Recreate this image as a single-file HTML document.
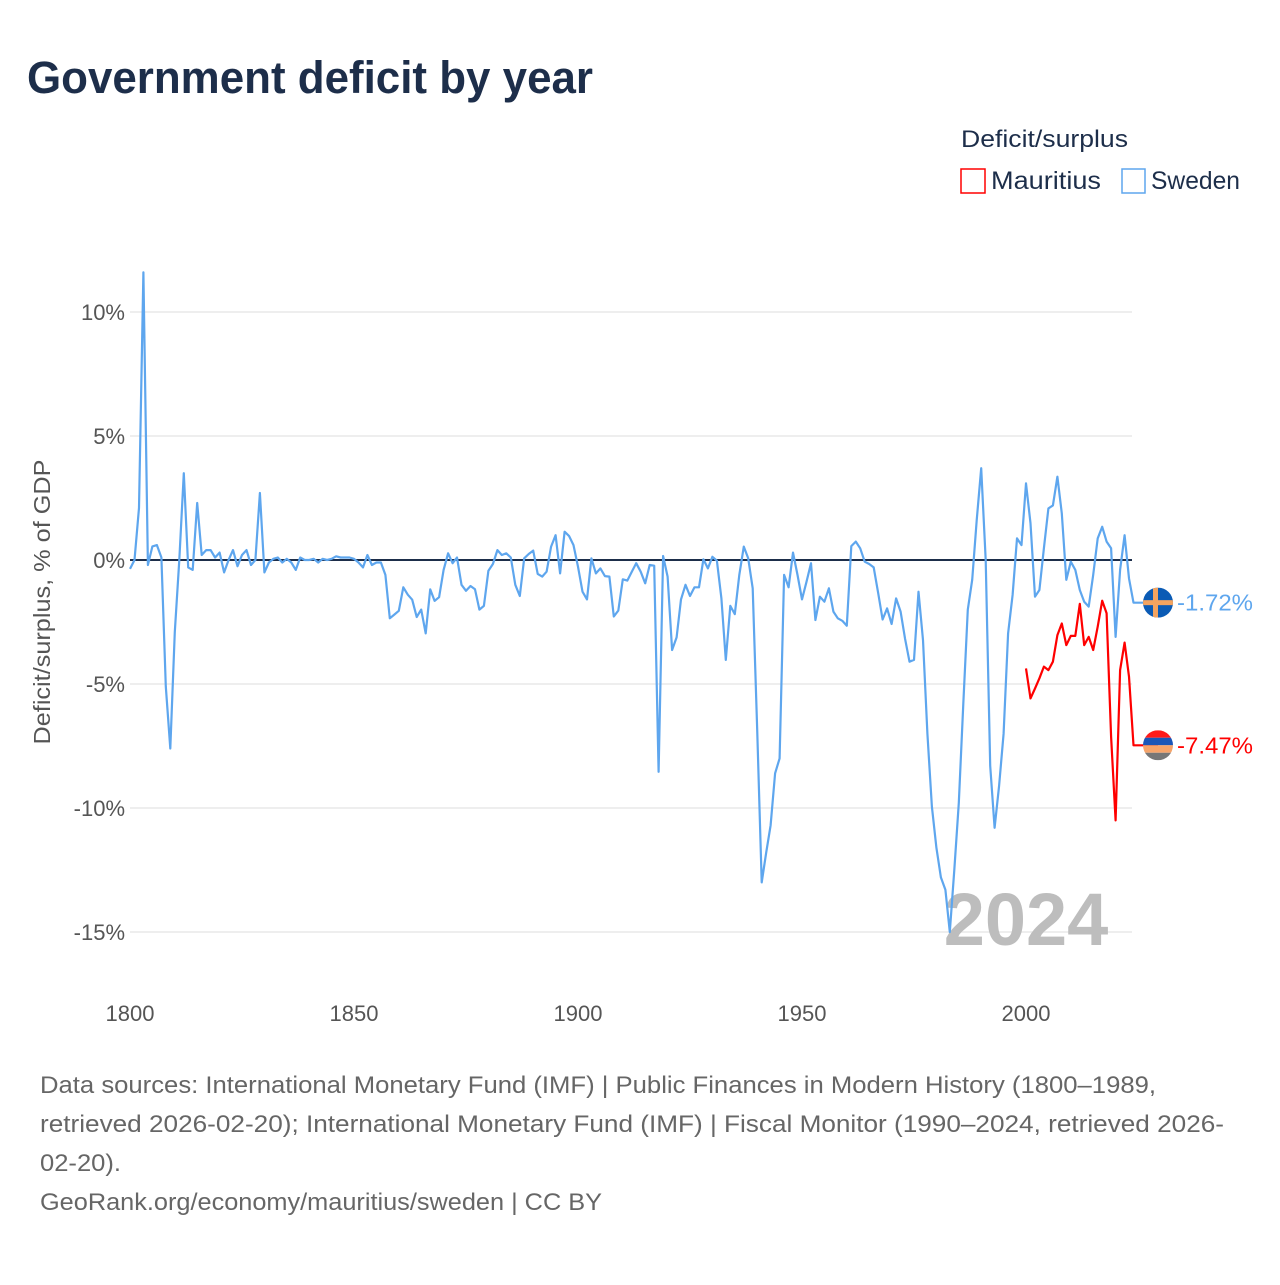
<!DOCTYPE html>
<html><head><meta charset="utf-8">
<style>
body{margin:0;background:#fff;width:1280px;height:1280px;overflow:hidden;font-family:"Liberation Sans",sans-serif;}
</style></head>
<body>
<svg width="1280" height="1280" xmlns="http://www.w3.org/2000/svg" font-family="Liberation Sans, sans-serif">
<text x="27" y="93" font-size="45" font-weight="bold" fill="#1d2e4a" textLength="566" lengthAdjust="spacingAndGlyphs">Government deficit by year</text>
<text x="961" y="147" font-size="24" fill="#1d2e4a" textLength="167" lengthAdjust="spacingAndGlyphs">Deficit/surplus</text>
<g>
<rect x="961" y="169" width="24" height="24" fill="#fff" stroke="#ff0000" stroke-width="1.5"/>
<text x="991" y="189" font-size="25" fill="#1d2e4a" textLength="110" lengthAdjust="spacingAndGlyphs">Mauritius</text></g>
<g>
<rect x="1122" y="169" width="23" height="24" fill="#fff" stroke="#5ea6ee" stroke-width="1.5"/>
<text x="1151" y="189" font-size="25" fill="#1d2e4a" textLength="89" lengthAdjust="spacingAndGlyphs">Sweden</text></g>
<g id="grid"></g>
<g id="yticks"></g>
<g id="xticks"></g>
<text transform="translate(50,602) rotate(-90)" text-anchor="middle" font-size="23" fill="#555" textLength="285" lengthAdjust="spacingAndGlyphs">Deficit/surplus, % of GDP</text>
<text x="1026" y="945" text-anchor="middle" font-size="74" font-weight="bold" fill="#bdbdbd">2024</text>
<g id="series"></g>
<g font-size="24" fill="#666">
<text x="40" y="1093" textLength="1116" lengthAdjust="spacingAndGlyphs">Data sources: International Monetary Fund (IMF) | Public Finances in Modern History (1800–1989,</text>
<text x="40" y="1132" textLength="1184" lengthAdjust="spacingAndGlyphs">retrieved 2026-02-20); International Monetary Fund (IMF) | Fiscal Monitor (1990–2024, retrieved 2026-</text>
<text x="40" y="1171" textLength="81" lengthAdjust="spacingAndGlyphs">02-20).</text>
<text x="40" y="1210" textLength="562" lengthAdjust="spacingAndGlyphs">GeoRank.org/economy/mauritius/sweden | CC BY</text>
</g>
</svg>
<script>
const yTicks=[10,5,0,-5,-10,-15];
const xTicks=[1800,1850,1900,1950,2000];
const swedenStart=1800;
const swedenValues=[-0.36,0,2.1,11.6,-0.2,0.55,0.6,0.1,-5.1,-7.6,-2.9,0,3.5,-0.3,-0.4,2.3,0.2,0.4,0.4,0.1,0.3,-0.5,0,0.4,-0.25,0.2,0.4,-0.2,0,2.7,
-0.5,-0.1,0.05,0.1,-0.1,0.05,-0.1,-0.4,0.1,0,0,0.05,-0.1,0.05,0,0.05,0.15,0.1,0.1,0.1,0.05,-0.1,-0.3,0.2,-0.2,-0.1,-0.1,-0.6,-2.35,-2.2,
-2.05,-1.1,-1.4,-1.6,-2.3,-2.0,-2.96,-1.18,-1.65,-1.5,-0.4,0.27,-0.13,0.1,-1.0,-1.24,-1.05,-1.18,-2.0,-1.85,-0.43,-0.16,0.4,0.2,0.27,0.1,-1.0,-1.45,0.07,0.24,
0.38,-0.56,-0.67,-0.47,0.54,1.0,-0.54,1.14,0.97,0.6,-0.27,-1.28,-1.59,0.07,-0.54,-0.34,-0.65,-0.67,-2.28,-2.04,-0.78,-0.83,-0.47,-0.13,-0.47,-0.94,-0.2,-0.23,-8.54,0.16,
-0.67,-3.63,-3.12,-1.59,-1.0,-1.45,-1.1,-1.1,0.03,-0.34,0.13,-0.03,-1.55,-4.03,-1.85,-2.18,-0.6,0.54,0.07,-1.14,-6.85,-13.0,-11.8,-10.7,-8.6,-8.0,-0.6,-1.1,0.3,-0.6,
-1.59,-0.88,-0.13,-2.42,-1.48,-1.68,-1.14,-2.08,-2.35,-2.45,-2.65,0.56,0.74,0.47,-0.07,-0.16,-0.3,-1.34,-2.4,-1.95,-2.58,-1.55,-2.08,-3.16,-4.1,-4.03,-1.28,-3.23,-7.0,-9.95,
-11.6,-12.8,-13.3,-15.0,-12.5,-9.8,-5.8,-2.0,-0.8,1.6,3.7,0,-8.3,-10.8,-9.1,-7.0,-2.96,-1.41,0.87,0.6,3.09,1.48,-1.48,-1.21,0.47,2.08,2.2,3.36,1.88,-0.8,
-0.07,-0.4,-1.21,-1.68,-1.88,-0.6,0.87,1.34,0.74,0.47,-3.1,-0.4,1.0,-0.74,-1.72];
const mauritiusStart=2000;
const mauritiusValues=[-4.37,-5.58,-5.18,-4.77,-4.3,-4.44,-4.1,-3.03,-2.56,-3.43,-3.06,-3.06,-1.77,-3.43,-3.1,-3.63,-2.69,-1.64,-2.15,-7.13,-10.5,-4.44,-3.33,-4.7,-7.47];
const labels=["-1.72%","-7.47%"];

const NS="http://www.w3.org/2000/svg";
const X0=130,X1=1132;
function xs(yr){return 130+(yr-1800)*4.48;}
function ys(v){return 560-v*24.8;}
function mk(tag,attrs,parent){const e=document.createElementNS(NS,tag);for(const k in attrs)e.setAttribute(k,attrs[k]);parent.appendChild(e);return e;}
const grid=document.getElementById('grid'),yt=document.getElementById('yticks'),xt=document.getElementById('xticks'),ser=document.getElementById('series');
yTicks.forEach(t=>{
  const l=mk('line',{x1:X0,x2:X1,y1:ys(t),y2:ys(t),stroke:t===0?'#1d2e4a':'#e8e8e8','stroke-width':t===0?2:1.5},grid);
  
  
  const tx=mk('text',{x:125,y:ys(t)+8,'text-anchor':'end','font-size':22,fill:'#555'},yt);
  tx.textContent=t+'%';
  
  
});
xTicks.forEach(t=>{
  const tx=mk('text',{x:xs(t),y:1021,'text-anchor':'middle','font-size':22,fill:'#555'},xt);
  tx.textContent=t;
  
  
});
function drawLine(start,vals,color,name,markerX){
  let d=vals.map((v,i)=>(i?'L':'M')+xs(start+i).toFixed(1)+','+ys(v).toFixed(1)).join(' ');
  d+=' L'+markerX+','+ys(vals[vals.length-1]).toFixed(1);
  const p=mk('path',{d:d,fill:'none',stroke:color,'stroke-width':2.2,'stroke-linejoin':'round'},ser);
  
  
}
drawLine(swedenStart,swedenValues,'#5ea6ee','sweden-line',1158);
drawLine(mauritiusStart,mauritiusValues,'#ff0000','mauritius-line',1158);
const sy=ys(swedenValues[swedenValues.length-1]);
const sg=mk('g',{},ser);


mk('defs',{},sg).innerHTML='<clipPath id="cs"><circle cx="1158" cy="'+sy+'" r="15"/></clipPath><clipPath id="cm"><circle cx="1158" cy="'+ys(mauritiusValues[mauritiusValues.length-1])+'" r="15"/></clipPath>';
const sgi=mk('g',{'clip-path':'url(#cs)'},sg);
mk('rect',{x:1143,y:sy-15,width:30,height:30,fill:'#0b5bb5'},sgi);
mk('rect',{x:1153,y:sy-15,width:5,height:30,fill:'#f4a460'},sgi);
mk('rect',{x:1143,y:sy-2.5,width:30,height:5,fill:'#f4a460'},sgi);
const sl=mk('text',{x:1177,y:sy+8,'font-size':23,fill:'#5ea6ee',textLength:76,lengthAdjust:'spacingAndGlyphs'},ser);
sl.textContent=labels[0];


const my=ys(mauritiusValues[mauritiusValues.length-1]);
const mg=mk('g',{'clip-path':'url(#cm)'},ser);


['#ff1a1a','#1a56b8','#f6a46a','#777'].forEach((c,i)=>mk('rect',{x:1143,y:my-15+i*7.5,width:30,height:7.5,fill:c},mg));
const ml=mk('text',{x:1177,y:my+8,'font-size':23,fill:'#ff0000',textLength:76,lengthAdjust:'spacingAndGlyphs'},ser);
ml.textContent=labels[1];


</script>
</body></html>
